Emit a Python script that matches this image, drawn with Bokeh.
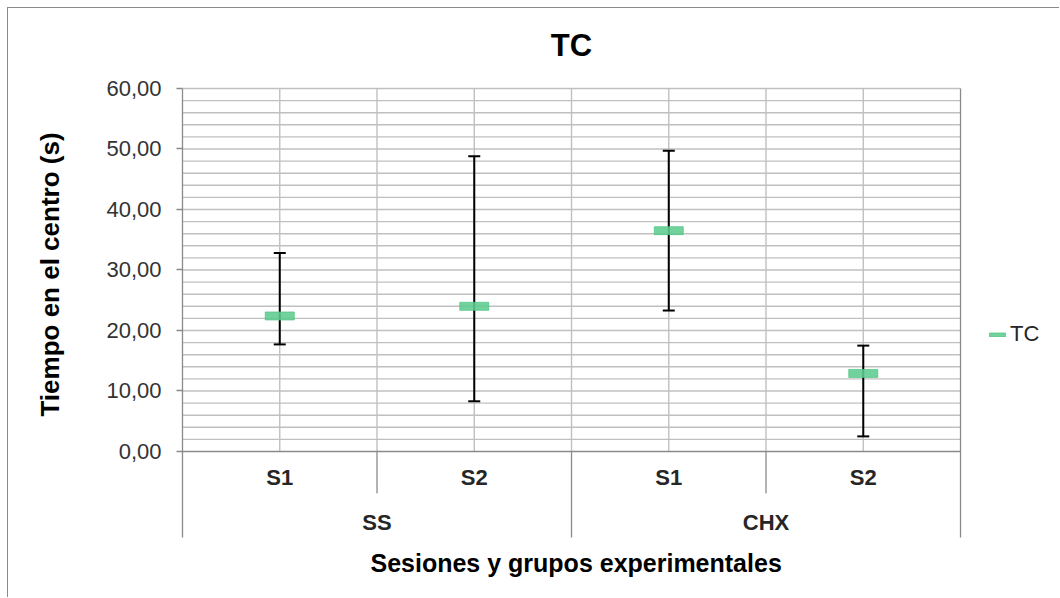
from bokeh.plotting import figure
from bokeh.models import (Range1d, FixedTicker, CustomJSTickFormatter,
                          Legend, LegendItem, ColumnDataSource, Title)
from bokeh.embed import file_html
from bokeh.resources import INLINE
from bokeh.core.properties import value

# ---- data ----
groups = ["SS", "SS", "CHX", "CHX"]
sessions = ["S1", "S2", "S1", "S2"]
tc_mean = [22.4, 24.0, 36.5, 12.9]
tc_upper = [32.8, 48.8, 49.7, 17.5]
tc_lower = [17.7, 8.3, 23.3, 2.5]
y_ticks = [0, 10, 20, 30, 40, 50, 60]
title_text = "TC"
y_title = "Tiempo en el centro (s)"
x_title = "Sesiones y grupos experimentales"
series_name = "TC"

FONT = "Liberation Sans"
n = len(sessions)
xpos = [i + 0.5 for i in range(n)]
group_names = list(dict.fromkeys(groups))
group_x = [sum(xpos[i] for i in range(n) if groups[i] == g) /
           sum(1 for gg in groups if gg == g) for g in group_names]

Y_TOP = 60
TABLE_BOTTOM = -14.2
p = figure(width=1052, height=590, margin=(8, 0, 0, 8),
           x_range=Range1d(0, n + 0.514), y_range=Range1d(-14.71, 73.22),
           output_backend="svg", toolbar_location=None,
           min_border_left=174, min_border_right=0, min_border_top=0, min_border_bottom=58)
p.styles = {"box-shadow": "-1px -1px 0 0 #8a8a8a"}
p.outline_line_color = None
p.background_fill_color = "white"
p.border_fill_color = "white"

# axes
p.xaxis.visible = False
p.xgrid.visible = False
p.ygrid.visible = False
ya = p.yaxis[0]
ya.bounds = (TABLE_BOTTOM, Y_TOP)
ya.ticker = FixedTicker(ticks=y_ticks)
ya.formatter = CustomJSTickFormatter(code="return tick.toFixed(2).replace('.', ',')")
ya.axis_line_color = "#8a8a8a"
ya.axis_line_width = 1.3
ya.major_tick_line_color = "#8a8a8a"
ya.major_tick_line_width = 1.3
ya.major_tick_out = 6
ya.major_tick_in = 0
ya.minor_tick_line_color = None
ya.major_label_text_font = FONT
ya.major_label_text_font_size = "22px"
ya.major_label_text_color = "#333333"
ya.major_label_standoff = 15
ya.axis_label = y_title
ya.axis_label_text_font = FONT
ya.axis_label_text_font_style = "bold"
ya.axis_label_text_font_size = "26px"
ya.axis_label_text_color = "black"
ya.axis_label_standoff = 38

# horizontal grid (every 2 units) inside value area
gy = list(range(2, Y_TOP + 1, 2))
p.segment(x0=[0] * len(gy), y0=gy, x1=[n] * len(gy), y1=gy, line_color="#c0c0c0", line_width=1.4)
# vertical grid lines inside value area (category centres and boundaries)
vx = [i * 0.5 for i in range(1, 2 * n)]
p.segment(x0=vx, y0=[0] * len(vx), x1=vx, y1=[Y_TOP] * len(vx),
          line_color="#c0c0c0", line_width=1.4)

# table lines below the axis
sub_bounds = [i for i in range(1, n) if groups[i] == groups[i - 1]]
grp_bounds = [i for i in range(1, n) if groups[i] != groups[i - 1]] + [n]
p.segment(x0=sub_bounds, y0=[0] * len(sub_bounds), x1=sub_bounds, y1=[-6.9] * len(sub_bounds),
          line_color="#8a8a8a", line_width=1.3)
p.segment(x0=grp_bounds, y0=[TABLE_BOTTOM] * len(grp_bounds), x1=grp_bounds,
          y1=[Y_TOP if b == n else 0 for b in grp_bounds],
          line_color="#8a8a8a", line_width=1.3)
p.segment(x0=[0], y0=[0], x1=[n], y1=[0], line_color="#8a8a8a", line_width=1.4)

# category labels
p.text(x=xpos, y=[-4.3] * n, text=sessions, text_align="center", text_baseline="middle",
       text_font=value(FONT), text_font_style="bold", text_font_size="22px", text_color="#262626")
p.text(x=group_x, y=[-11.7] * len(group_names), text=group_names, text_align="center",
       text_baseline="middle", text_font=value(FONT), text_font_style="bold",
       text_font_size="22px", text_color="#262626")

# chart title
p.text(x=[n / 2], y=[67.1], text=[title_text], text_align="center", text_baseline="middle",
       text_font=value(FONT), text_font_style="bold", text_font_size="31px", text_color="black")

# error bars
src = ColumnDataSource(dict(x=xpos, m=tc_mean, up=tc_upper, lo=tc_lower))
p.segment(x0="x", y0="lo", x1="x", y1="up", source=src, line_color="black", line_width=2)
p.scatter(x="x", y="up", source=src, marker="dash", size=12, line_color="black", line_width=2)
p.scatter(x="x", y="lo", source=src, marker="dash", size=12, line_color="black", line_width=2)

# mean markers
r = p.rect(x="x", y="m", source=src, width=29, height=8, width_units="screen",
           height_units="screen", fill_color="#5fcc90", fill_alpha=0.88,
           line_color="#4cc482", line_alpha=0.7, line_width=1)

legend = Legend(items=[LegendItem(label=series_name, renderers=[r])], location=(805, 193),
                glyph_width=20, glyph_height=5, label_height=22, label_standoff=3,
                label_text_font=FONT, label_text_font_size="22px", label_text_color="#262626",
                padding=0, margin=0, border_line_color=None, background_fill_alpha=0)
p.add_layout(legend)

# x-axis title below
p.add_layout(Title(text=x_title, align="left", offset=188, text_font=FONT,
                   text_font_style="bold", text_font_size="25px", text_color="black",
                   standoff=13), "below")

open("out.html", "w").write(file_html(p, INLINE))
